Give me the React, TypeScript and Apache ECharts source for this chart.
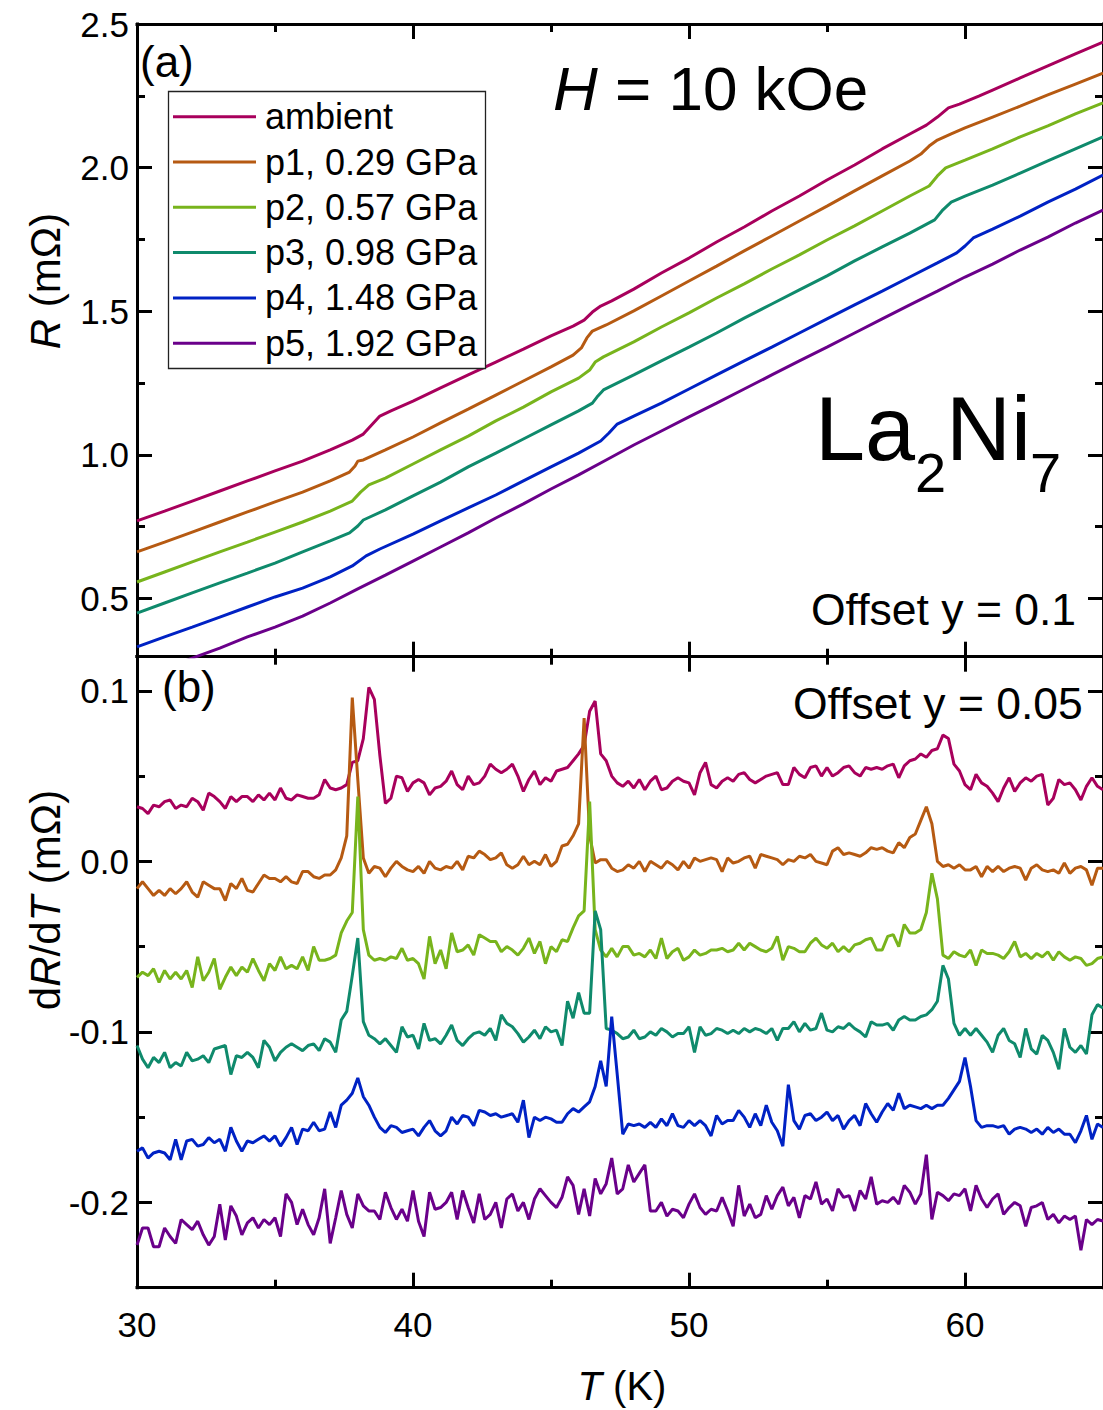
import React, { useEffect, useRef } from "react";
import * as echarts from "echarts";

const FONT = "'Liberation Sans', Arial, Helvetica, sans-serif";

const curveNames = ["ambient", "p1, 0.29 GPa", "p2, 0.57 GPa", "p3, 0.98 GPa", "p4, 1.48 GPa", "p5, 1.92 GPa"];
const curveColors = ["#A8005C", "#B65A12", "#78B41C", "#0F8A6C", "#0022C4", "#6A008A"];

// Panel (a): R(T) in mΩ, each curve shifted down by 0.1 mΩ from the previous one
const rAmbient = [
  [30, 0.770], [31, 0.804], [32, 0.839], [33, 0.874], [34, 0.909], [35, 0.944], [36, 0.978], [37, 1.017],
  [37.8, 1.051], [38.2, 1.072], [38.5, 1.104], [38.8, 1.135], [39.2, 1.153], [40, 1.187], [41, 1.233],
  [42, 1.278], [43, 1.323], [44, 1.368], [45, 1.414], [45.8, 1.448], [46.2, 1.469], [46.5, 1.497],
  [46.8, 1.518], [47.2, 1.536], [48, 1.577], [49, 1.633], [50, 1.685], [51, 1.741], [52, 1.793],
  [53, 1.849], [54, 1.901], [55, 1.957], [56, 2.009], [57, 2.065], [58, 2.117], [58.6, 2.148],
  [59.0, 2.176], [59.4, 2.208], [59.8, 2.221], [60.5, 2.249], [61, 2.270], [62, 2.312], [63, 2.354],
  [64, 2.396], [65, 2.437],
];
const rP1 = [
  [30, 0.662], [31, 0.696], [32, 0.731], [33, 0.766], [34, 0.801], [35, 0.836], [36, 0.870], [37, 0.909],
  [37.7, 0.940], [37.9, 0.961], [38.0, 0.978], [38.2, 0.982], [39, 1.017], [40, 1.062], [41, 1.111],
  [42, 1.159], [43, 1.208], [44, 1.257], [45, 1.306], [45.8, 1.347], [46.1, 1.372], [46.3, 1.407],
  [46.5, 1.431], [47, 1.452], [48, 1.501], [49, 1.553], [50, 1.605], [51, 1.657], [52, 1.710],
  [53, 1.762], [54, 1.814], [55, 1.866], [56, 1.919], [57, 1.971], [58, 2.023], [58.4, 2.047],
  [58.7, 2.075], [59.0, 2.096], [59.5, 2.117], [60, 2.138], [61, 2.176], [62, 2.214], [63, 2.253],
  [64, 2.291], [65, 2.329],
];
const rP2 = [
  [30, 0.557], [31, 0.592], [32, 0.627], [33, 0.662], [34, 0.696], [35, 0.731], [36, 0.766], [37, 0.804],
  [37.8, 0.839], [38.1, 0.870], [38.4, 0.895], [39, 0.919], [40, 0.968], [41, 1.017], [42, 1.065],
  [43, 1.118], [44, 1.166], [45, 1.219], [46, 1.267], [46.4, 1.295], [46.6, 1.323], [46.9, 1.341],
  [48, 1.393], [49, 1.445], [50, 1.494], [51, 1.546], [52, 1.595], [53, 1.647], [54, 1.696],
  [55, 1.748], [56, 1.797], [57, 1.849], [58, 1.901], [58.7, 1.936], [59.0, 1.971], [59.3, 1.999],
  [60, 2.026], [61, 2.065], [62, 2.107], [63, 2.145], [64, 2.187], [65, 2.225],
];
const rP3 = [
  [30, 0.449], [31, 0.484], [32, 0.519], [33, 0.554], [34, 0.588], [35, 0.623], [36, 0.662], [37, 0.700],
  [37.7, 0.728], [38.0, 0.752], [38.2, 0.773], [39, 0.808], [40, 0.857], [41, 0.905], [42, 0.958],
  [43, 1.006], [44, 1.055], [45, 1.104], [46, 1.153], [46.5, 1.180], [46.7, 1.205], [46.9, 1.226],
  [48, 1.278], [49, 1.327], [50, 1.375], [51, 1.424], [52, 1.476], [53, 1.525], [54, 1.574],
  [55, 1.623], [56, 1.675], [57, 1.724], [58, 1.772], [58.9, 1.818], [59.2, 1.853], [59.5, 1.880],
  [60, 1.901], [61, 1.939], [62, 1.981], [63, 2.023], [64, 2.065], [65, 2.107],
];
const rP4 = [
  [30, 0.331], [31, 0.366], [32, 0.400], [33, 0.435], [34, 0.470], [35, 0.505], [36, 0.536], [37, 0.575],
  [37.8, 0.613], [38.3, 0.648], [38.8, 0.672], [40, 0.724], [41, 0.770], [42, 0.815], [43, 0.860],
  [44, 0.909], [45, 0.958], [46, 1.006], [46.8, 1.048], [47.1, 1.076], [47.4, 1.107], [48, 1.135],
  [49, 1.180], [50, 1.229], [51, 1.278], [52, 1.327], [53, 1.375], [54, 1.424], [55, 1.473],
  [56, 1.522], [57, 1.570], [58, 1.619], [59, 1.668], [59.7, 1.703], [60.0, 1.727], [60.3, 1.755],
  [61, 1.786], [62, 1.831], [63, 1.880], [64, 1.925], [65, 1.974],
];
const rP5 = [
  [30, 0.219], [31, 0.254], [32, 0.292], [33, 0.327], [34, 0.366], [35, 0.400], [36, 0.438], [37, 0.484],
  [38, 0.533], [39, 0.581], [40, 0.630], [41, 0.679], [42, 0.728], [43, 0.780], [44, 0.829],
  [45, 0.881], [46, 0.930], [47, 0.982], [48, 1.034], [49, 1.083], [50, 1.132], [51, 1.180],
  [52, 1.229], [53, 1.278], [54, 1.327], [55, 1.375], [56, 1.424], [57, 1.473], [58, 1.522],
  [59, 1.570], [60, 1.619], [61, 1.664], [62, 1.713], [63, 1.758], [64, 1.807], [65, 1.852],
];

// Panel (b): dR/dT sampled every 0.2 K from 30 K to 65 K, in units of 0.001 mΩ,
// each curve shifted down by 0.05 mΩ from the previous one
const D_T_START = 30;
const D_T_STEP = 0.2;
const dAmbient = [
  32, 31, 28, 33, 32, 35, 36, 31, 33, 32,
  37, 35, 30, 40, 38, 35, 31, 38, 35, 38,
  38, 35, 39, 36, 40, 36, 43, 37, 36, 39,
  38, 37, 37, 39, 48, 43, 42, 43, 45, 58,
  59, 72, 102, 95, 62, 34, 37, 50, 49, 41,
  46, 48, 46, 39, 43, 44, 47, 53, 45, 42,
  50, 45, 46, 50, 57, 54, 52, 54, 57, 50,
  41, 48, 53, 45, 49, 47, 53, 54, 55, 59,
  63, 68, 88, 94, 63, 59, 50, 46, 44, 47,
  43, 48, 42, 47, 50, 42, 43, 47, 49, 47,
  46, 39, 52, 58, 45, 43, 47, 49, 47, 51,
  52, 48, 46, 48, 50, 51, 52, 45, 45, 55,
  51, 49, 55, 56, 50, 55, 50, 52, 55, 56,
  52, 50, 55, 54, 55, 54, 56, 57, 49, 56,
  59, 60, 63, 61, 65, 66, 74, 72, 57, 53,
  45, 42, 51, 46, 44, 40, 35, 43, 49, 41,
  46, 49, 47, 50, 51, 33, 37, 48, 45, 46,
  42, 36, 44, 49, 44, 42,
];
const dP1 = [
  -16, -12, -16, -20, -17, -20, -16, -19, -16, -12,
  -18, -21, -12, -14, -16, -16, -23, -13, -16, -10,
  -17, -18, -13, -8, -10, -10, -12, -9, -12, -13,
  -6, -6, -9, -10, -8, -8, -5, 2, 15, 96,
  48, 2, -7, -3, -4, -9, -4, 0, -3, -5,
  -6, -3, -7, 0, -4, -5, -3, -4, 0, -5,
  3, 2, 6, 4, 1, 2, 5, -2, -4, -2,
  3, -2, 0, -2, 4, -3, 0, 9, 10, 15,
  22, 84, 15, -1, 1, 1, -4, -6, -5, -2,
  -4, 0, -6, 0, -2, -4, 0, -2, -5, 0,
  -4, 2, 0, 1, 2, 1, -6, 2, -1, 0,
  2, 3, -4, 4, 3, 2, 1, -2, 1, 0,
  3, 2, 4, 0, -1, -2, 6, 8, 4, 5,
  4, 3, 5, 8, 7, 8, 6, 5, 11, 8,
  14, 16, 24, 32, 22, 0, -3, -2, -4, -2,
  -5, -5, -3, -9, -3, -6, -3, -6, -4, -3,
  -4, -11, -4, -2, -5, -6, -5, -7, -1, -7,
  -4, -3, -5, -14, -4, -4,
];
const dP2 = [
  -68, -65, -67, -63, -71, -64, -69, -65, -69, -64,
  -74, -56, -70, -65, -57, -75, -68, -62, -67, -62,
  -65, -57, -64, -70, -60, -64, -56, -63, -61, -63,
  -56, -64, -50, -58, -58, -57, -55, -42, -35, -30,
  38, -40, -55, -58, -57, -58, -56, -57, -51, -58,
  -57, -60, -69, -44, -60, -52, -63, -42, -53, -52,
  -49, -55, -43, -45, -47, -47, -53, -50, -52, -55,
  -51, -45, -54, -47, -60, -50, -53, -46, -47, -39,
  -32, -29, 35, -40, -52, -56, -51, -56, -50, -50,
  -55, -54, -56, -52, -57, -45, -57, -53, -51, -58,
  -56, -52, -55, -54, -52, -52, -51, -53, -52, -48,
  -52, -48, -50, -52, -53, -51, -44, -58, -50, -51,
  -53, -53, -48, -45, -49, -51, -48, -53, -50, -53,
  -49, -48, -46, -45, -52, -52, -44, -43, -50, -37,
  -42, -42, -40, -30, -7, -22, -55, -57, -53, -55,
  -56, -52, -61, -52, -54, -54, -55, -57, -53, -47,
  -56, -54, -57, -54, -56, -53, -58, -53, -56, -58,
  -56, -57, -61, -60, -57, -56,
];
const dP3 = [
  -108, -116, -121, -115, -118, -112, -121, -118, -120, -112,
  -117, -116, -114, -118, -110, -109, -108, -125, -114, -115,
  -112, -115, -121, -105, -109, -117, -112, -109, -107, -109,
  -111, -108, -107, -111, -104, -106, -112, -93, -88, -67,
  -45, -94, -102, -104, -107, -104, -108, -112, -97, -103,
  -102, -110, -95, -105, -104, -107, -102, -96, -105, -108,
  -104, -101, -100, -102, -98, -105, -90, -95, -97, -101,
  -106, -103, -99, -104, -97, -100, -99, -108, -82, -92,
  -77, -89, -89, -29, -40, -98, -99, -101, -104, -103,
  -99, -104, -103, -100, -102, -98, -100, -103, -101, -101,
  -97, -112, -97, -102, -101, -98, -99, -101, -99, -101,
  -98, -100, -98, -99, -101, -98, -105, -98, -98, -94,
  -100, -95, -99, -98, -89, -99, -100, -97, -98, -95,
  -98, -100, -103, -94, -96, -96, -95, -99, -93, -91,
  -93, -93, -91, -90, -87, -82, -61, -69, -95, -102,
  -98, -102, -98, -102, -106, -112, -102, -98, -105, -107,
  -115, -98, -110, -113, -102, -105, -112, -122, -98, -109,
  -112, -108, -113, -90, -84, -86,
];
const dP4 = [
  -170, -168, -174, -171, -170, -171, -175, -163, -175, -164,
  -163, -167, -166, -162, -165, -163, -170, -156, -164, -170,
  -164, -165, -163, -161, -164, -161, -167, -162, -156, -166,
  -157, -158, -153, -158, -157, -147, -156, -143, -140, -136,
  -127, -138, -143, -150, -156, -159, -155, -156, -159, -158,
  -157, -161, -156, -152, -158, -161, -158, -150, -154, -149,
  -150, -155, -146, -147, -149, -148, -150, -149, -148, -153,
  -140, -162, -150, -152, -150, -151, -153, -153, -148, -145,
  -147, -144, -141, -132, -117, -132, -91, -125, -160, -154,
  -155, -154, -156, -153, -156, -151, -155, -148, -155, -156,
  -152, -155, -152, -155, -161, -149, -154, -152, -152, -146,
  -150, -156, -148, -155, -143, -153, -158, -167, -131, -152,
  -157, -149, -148, -152, -150, -147, -152, -149, -157, -152,
  -149, -155, -142, -148, -153, -147, -142, -146, -136, -145,
  -143, -144, -145, -143, -145, -143, -143, -139, -134, -129,
  -115, -132, -152, -156, -155, -155, -156, -155, -160, -157,
  -156, -157, -159, -157, -160, -156, -159, -157, -160, -160,
  -165, -158, -149, -163, -154, -156,
];
const dP5 = [
  -225, -215, -215, -226, -226, -215, -220, -224, -210, -213,
  -216, -211, -219, -225, -220, -201, -222, -202, -208, -219,
  -212, -209, -215, -210, -213, -209, -220, -195, -200, -213,
  -204, -213, -219, -209, -192, -224, -209, -193, -207, -215,
  -195, -202, -205, -205, -210, -194, -203, -210, -204, -211,
  -193, -211, -220, -194, -204, -203, -200, -194, -210, -193,
  -203, -212, -195, -210, -207, -200, -215, -198, -195, -205,
  -200, -210, -198, -192, -196, -200, -203, -197, -185, -190,
  -207, -192, -208, -186, -195, -189, -174, -195, -192, -178,
  -188, -183, -178, -205, -205, -200, -208, -204, -205, -209,
  -201, -195, -203, -207, -204, -205, -197, -205, -214, -190,
  -208, -201, -209, -207, -196, -204, -196, -191, -202, -197,
  -209, -196, -198, -188, -201, -198, -205, -192, -197, -196,
  -205, -193, -198, -185, -201, -199, -200, -197, -201, -190,
  -194, -201, -195, -172, -210, -194, -196, -199, -195, -196,
  -192, -205, -190, -198, -203, -198, -195, -207, -203, -200,
  -202, -214, -203, -202, -200, -210, -207, -212, -208, -210,
  -208, -228, -210, -213, -210, -211,
];

// Axis ranges and tick values
const T_MIN = 30;
const T_MAX = 65;
const tMajor = [30, 40, 50, 60];
const tMinor = [35, 45, 55];
const R_MIN = 0.297;
const R_MAX = 2.5;
const rMajor = [0.5, 1.0, 1.5, 2.0, 2.5];
const rMinor = [0.75, 1.25, 1.75, 2.25];
const D_MIN = -0.25;
const D_MAX = 0.12;
const dMajor = [-0.2, -0.1, 0.0, 0.1];
const dMinor = [-0.15, -0.05, 0.05];

const rSets = [rAmbient, rP1, rP2, rP3, rP4, rP5];
const dSets = [dAmbient, dP1, dP2, dP3, dP4, dP5];

const LINE_W = 3;
const AXIS_W = 3;

function axisCommon(ticks: number[], len: number, showLine: boolean) {
  return {
    axisLine: { show: showLine, onZero: false, lineStyle: { color: "#000", width: AXIS_W, cap: "square" } },
    axisTick: { show: true, inside: true, length: len, customValues: ticks, lineStyle: { color: "#000", width: AXIS_W } },
    splitLine: { show: false },
  };
}

function xAxes(gridIndex: number, withLabels: boolean) {
  const out: any[] = [];
  for (const position of ["bottom", "top"]) {
    const labels = withLabels && position === "bottom";
    out.push({
      type: "value", gridIndex, position, min: T_MIN, max: T_MAX,
      ...axisCommon(tMajor, 15, true),
      axisLabel: labels
        ? { show: true, customValues: tMajor, margin: 19, color: "#000", fontSize: 35, fontFamily: FONT, formatter: (v: number) => String(v) }
        : { show: false },
    });
    out.push({
      type: "value", gridIndex, position, min: T_MIN, max: T_MAX,
      ...axisCommon(tMinor, 8, false),
      axisLabel: { show: false },
    });
  }
  return out;
}

function yAxes(gridIndex: number, min: number, max: number, major: number[], minor: number[]) {
  const out: any[] = [];
  for (const position of ["left", "right"]) {
    const labels = position === "left";
    out.push({
      type: "value", gridIndex, position, min, max,
      ...axisCommon(major, 15, true),
      axisLabel: labels
        ? { show: true, customValues: major, margin: 8, color: "#000", fontSize: 35, fontFamily: FONT, formatter: (v: number) => v.toFixed(1) }
        : { show: false },
    });
    out.push({
      type: "value", gridIndex, position, min, max,
      ...axisCommon(minor, 8, false),
      axisLabel: { show: false },
    });
  }
  return out;
}

function txt(text: string, x: number, y: number, size: number, extra: any = {}) {
  return {
    type: "text", x, y, z: 100, silent: true,
    style: { text, fill: "#000", fontSize: size, fontFamily: FONT, verticalAlign: "middle", align: "left", ...extra },
  };
}

function richText(text: string, x: number, y: number, size: number, rotation: number, align: string) {
  return {
    type: "text", x, y, rotation, z: 100, silent: true,
    style: {
      text, fill: "#000", fontSize: size, fontFamily: FONT, align, verticalAlign: "middle",
      rich: {
        i: { fontStyle: "italic", fontSize: size, fontFamily: FONT, fill: "#000" },
        n: { fontSize: size, fontFamily: FONT, fill: "#000" },
      },
    },
  };
}

function legendGraphics() {
  const left = 168.5, top = 91.5, w = 317, h = 277;
  const rowY0 = 116.7, rowStep = 45.3;
  const items: any[] = [
    { type: "rect", z: 99, silent: true, shape: { x: left, y: top, width: w, height: h }, style: { fill: "#fff", stroke: "#222", lineWidth: 1.3 } },
  ];
  curveNames.forEach((name, i) => {
    const y = rowY0 + i * rowStep;
    items.push({ type: "line", z: 100, silent: true, shape: { x1: 173, y1: y, x2: 256, y2: y }, style: { stroke: curveColors[i], lineWidth: LINE_W } });
    items.push(txt(name, 265, y, 36));
  });
  return items;
}

export default function App() {
  const ref = useRef<HTMLDivElement>(null);

  useEffect(() => {
    if (!ref.current) return;
    const chart = echarts.init(ref.current, undefined, { renderer: "svg" });
    const dTemps = dAmbient.map((_, k) => Math.round((D_T_START + k * D_T_STEP) * 10) / 10);

    const series: any[] = [];
    rSets.forEach((d, i) => {
      series.push({
        type: "line", name: curveNames[i], xAxisIndex: 0, yAxisIndex: 0, data: d,
        showSymbol: false, symbol: "none", clip: true, silent: true,
        lineStyle: { color: curveColors[i], width: LINE_W },
      });
    });
    dSets.forEach((d, i) => {
      series.push({
        type: "line", name: curveNames[i], xAxisIndex: 4, yAxisIndex: 4,
        data: d.map((v, k) => [dTemps[k], v / 1000]),
        showSymbol: false, symbol: "none", clip: true, silent: true,
        lineStyle: { color: curveColors[i], width: LINE_W },
      });
    });

    chart.setOption({
      animation: false,
      backgroundColor: "#fff",
      grid: [
        { left: 137, top: 24, width: 969.5, height: 632.7 },
        { left: 137, top: 656.7, width: 969.5, height: 631 },
      ],
      xAxis: [...xAxes(0, false), ...xAxes(1, true)],
      yAxis: [
        ...yAxes(0, R_MIN, R_MAX, rMajor, rMinor),
        ...yAxes(1, D_MIN, D_MAX, dMajor, dMinor),
      ],
      series,
      graphic: [
        ...legendGraphics(),
        txt("(a)", 140, 61, 44),
        txt("(b)", 162, 686, 44),
        richText("{i|H}{n| = 10 kOe}", 553, 88, 62, 0, "left"),
        txt("La", 815, 428.8, 90),
        txt("2", 915, 472.6, 56),
        txt("Ni", 946, 428.8, 90),
        txt("7", 1030, 472.6, 56),
        txt("Offset y = 0.1", 811, 609.8, 44.5),
        txt("Offset y = 0.05", 793, 703, 44.5),
        richText("{i|R}{n| (mΩ)}", 45, 281, 42, Math.PI / 2, "center"),
        richText("{n|d}{i|R}{n|/d}{i|T}{n| (mΩ)}", 45, 900, 42, Math.PI / 2, "center"),
        richText("{i|T}{n| (K)}", 622, 1386, 40, 0, "center"),
      ],
    });

    return () => chart.dispose();
  }, []);

  return (
    <div
      ref={ref}
      style={{ position: "fixed", left: 0, top: 0, width: 1103, height: 1410, background: "#fff" }}
    />
  );
}
